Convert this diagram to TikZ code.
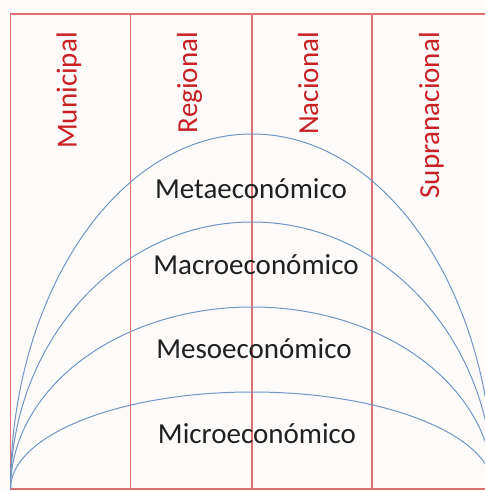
\documentclass[tikz,border=0pt]{standalone}
\usepackage{fontspec}
\setmainfont{Carlito}
\definecolor{gridred}{RGB}{222,112,115}
\definecolor{labred}{RGB}{200,32,36}
\definecolor{arcblue}{RGB}{112,150,200}
\definecolor{txtdark}{RGB}{32,32,32}
\definecolor{paper}{RGB}{253,251,249}
\tikzset{
  gridline/.style={draw=gridred,line width=1.3pt},
  arcline/.style={draw=arcblue,line width=1pt},
  levellabel/.style={text=labred,font=\fontsize{29}{30}\selectfont,rotate=90,anchor=base east,inner sep=0pt},
  ecolabel/.style={text=txtdark,font=\fontsize{29}{30}\selectfont,anchor=base,inner sep=0pt}
}
\begin{document}
\begin{tikzpicture}[x=1pt,y=1pt]
\useasboundingbox (0,0) rectangle (485,491);
\fill[paper] (0,0) rectangle (485,491);
\clip (0,0) rectangle (485,491);
% frame and columns
\coordinate (bl) at (10.5,2);
\coordinate (tr) at (493.5,477);
\draw[gridline] (bl) rectangle (tr);
\coordinate (c1b) at (130.5,2); \coordinate (c1t) at (130.5,477);
\coordinate (c2b) at (252,2);   \coordinate (c2t) at (252,477);
\coordinate (c3b) at (372,2);   \coordinate (c3t) at (372,477);
\draw[gridline] (c1b) -- (c1t);
\draw[gridline] (c2b) -- (c2t);
\draw[gridline] (c3b) -- (c3t);
% arcs
\draw[arcline] (bl) arc[start angle=180,end angle=0,x radius=241.5,y radius=355];
\draw[arcline] (bl) arc[start angle=180,end angle=0,x radius=241.5,y radius=267];
\draw[arcline] (bl) arc[start angle=180,end angle=0,x radius=241.5,y radius=182];
\draw[arcline] (bl) arc[start angle=180,end angle=0,x radius=241.5,y radius=97];
% column labels
\node[levellabel] (mun) at (76.5,459) {Municipal};
\node[levellabel] (reg) at (197,459) {Regional};
\node[levellabel] (nac) at (318,459) {Nacional};
\node[levellabel] (sup) at (439,459) {Supranacional};
% level labels
\node[ecolabel] (meta) at (251,292) {Metaeconómico};
\node[ecolabel] (macro) at (256,216) {Macroeconómico};
\node[ecolabel] (meso) at (254,132) {Mesoeconómico};
\node[ecolabel] (micro) at (257,48) {Microeconómico};
\end{tikzpicture}
\end{document}
